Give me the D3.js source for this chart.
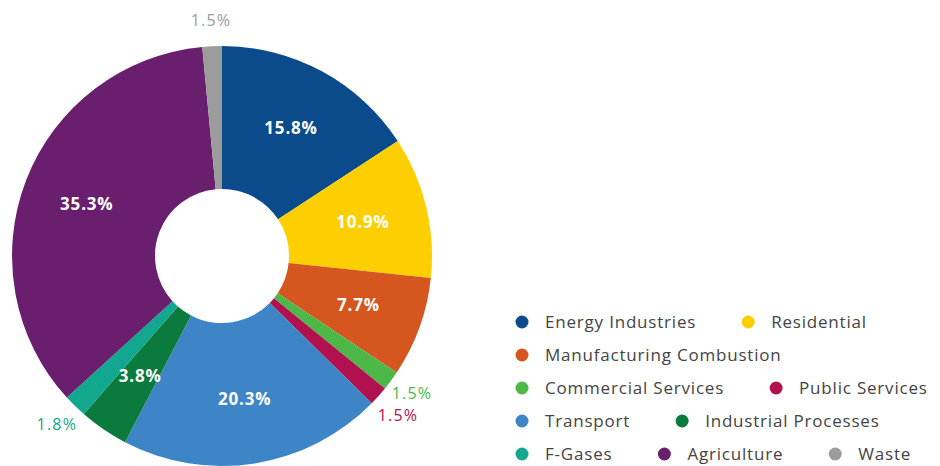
<!DOCTYPE html>
<html>
<head>
<meta charset="utf-8">
<script src="https://cdn.jsdelivr.net/npm/d3@7"></script>
<style>
  html, body { margin: 0; padding: 0; background: #ffffff; }
  svg { display: block; }
</style>
</head>
<body>
<svg id="chart" width="940" height="466"></svg>
<script>
// Emission shares by sector (%)
const sectors = ["Energy Industries", "Residential", "Manufacturing Combustion",
  "Commercial Services", "Public Services", "Transport", "Industrial Processes",
  "F-Gases", "Agriculture", "Waste"];
const shares = [15.8, 10.9, 7.7, 1.5, 1.5, 20.3, 3.8, 1.8, 35.3, 1.5];
const colors = ["#0b4a8b", "#fdcf00", "#d6561f", "#4db748", "#b1124f",
  "#3d85c6", "#0a7a3d", "#12a88f", "#6a1e6e", "#9c9c9c"];
// Slices too thin for an inside label get an outside one
const outside = [false, false, false, true, true, false, false, true, false, true];
// Legend rows (indices into sectors)
const legendRows = [[0, 1], [2], [3, 4], [5, 6], [7, 8, 9]];

const svg = d3.select("#chart");
const cx = 222, cy = 256, rOuter = 210, rInner = 67;
const font = "'Open Sans', sans-serif";

const data = sectors.map((s, i) => ({ name: s, value: shares[i], color: colors[i], out: outside[i] }));

const pie = d3.pie().value(d => d.value).sort(null);
const arcs = pie(data);
const arc = d3.arc().innerRadius(rInner).outerRadius(rOuter);
const labelArc = d3.arc().innerRadius(145).outerRadius(145);
const outArc = d3.arc().innerRadius(236).outerRadius(236);

const g = svg.append("g").attr("transform", `translate(${cx},${cy})`);

g.selectAll("path.slice")
  .data(arcs)
  .join("path")
  .attr("class", "slice")
  .attr("d", arc)
  .attr("fill", d => d.data.color);

g.selectAll("text.inlabel")
  .data(arcs.filter(d => !d.data.out))
  .join("text")
  .attr("class", "inlabel")
  .attr("transform", d => `translate(${labelArc.centroid(d)})`)
  .attr("text-anchor", "middle")
  .attr("dy", "0.35em")
  .attr("font-family", font)
  .attr("font-weight", 700)
  .attr("font-size", 17)
  .attr("letter-spacing", "0.8px")
  .attr("fill", "#ffffff")
  .text(d => d3.format(".1f")(d.data.value) + "%");

// Outside labels: start on the slice centroid, then push neighbours apart vertically
const outLabels = arcs.filter(d => d.data.out).map(d => {
  const [x, y] = outArc.centroid(d);
  return { d, x, y };
});
const minDy = 22, minDx = 44;
for (let iter = 0; iter < 10; iter++) {
  for (let i = 0; i < outLabels.length; i++) {
    for (let j = i + 1; j < outLabels.length; j++) {
      const a = outLabels[i], b = outLabels[j];
      const dy = b.y - a.y;
      if (Math.abs(b.x - a.x) < minDx && Math.abs(dy) < minDy) {
        const shift = (minDy - Math.abs(dy)) / 2 * (dy >= 0 ? 1 : -1);
        a.y -= shift; b.y += shift;
      }
    }
  }
}

g.selectAll("text.outlabel")
  .data(outLabels)
  .join("text")
  .attr("class", "outlabel")
  .attr("x", l => l.x)
  .attr("y", l => l.y)
  .attr("text-anchor", "middle")
  .attr("dy", "0.35em")
  .attr("font-family", font)
  .attr("font-size", 16)
  .attr("letter-spacing", "1.2px")
  .attr("fill", l => l.d.data.color)
  .text(l => d3.format(".1f")(l.d.data.value) + "%");

// Legend
const legend = svg.append("g").attr("transform", "translate(522,322)");
const rowGap = 33, dotToText = 23, itemGap = 52;
legendRows.forEach((row, ri) => {
  let x = 0;
  row.forEach(idx => {
    const item = legend.append("g").attr("transform", `translate(${x},${ri * rowGap})`);
    item.append("circle").attr("r", 6.5).attr("fill", colors[idx]);
    const t = item.append("text")
      .attr("x", dotToText)
      .attr("dy", "0.35em")
      .attr("font-family", font)
      .attr("font-size", 17)
      .attr("letter-spacing", "0.8px")
      .attr("fill", "#444444")
      .text(sectors[idx]);
    x += dotToText + t.node().getComputedTextLength() + itemGap;
  });
});
</script>
</body>
</html>
